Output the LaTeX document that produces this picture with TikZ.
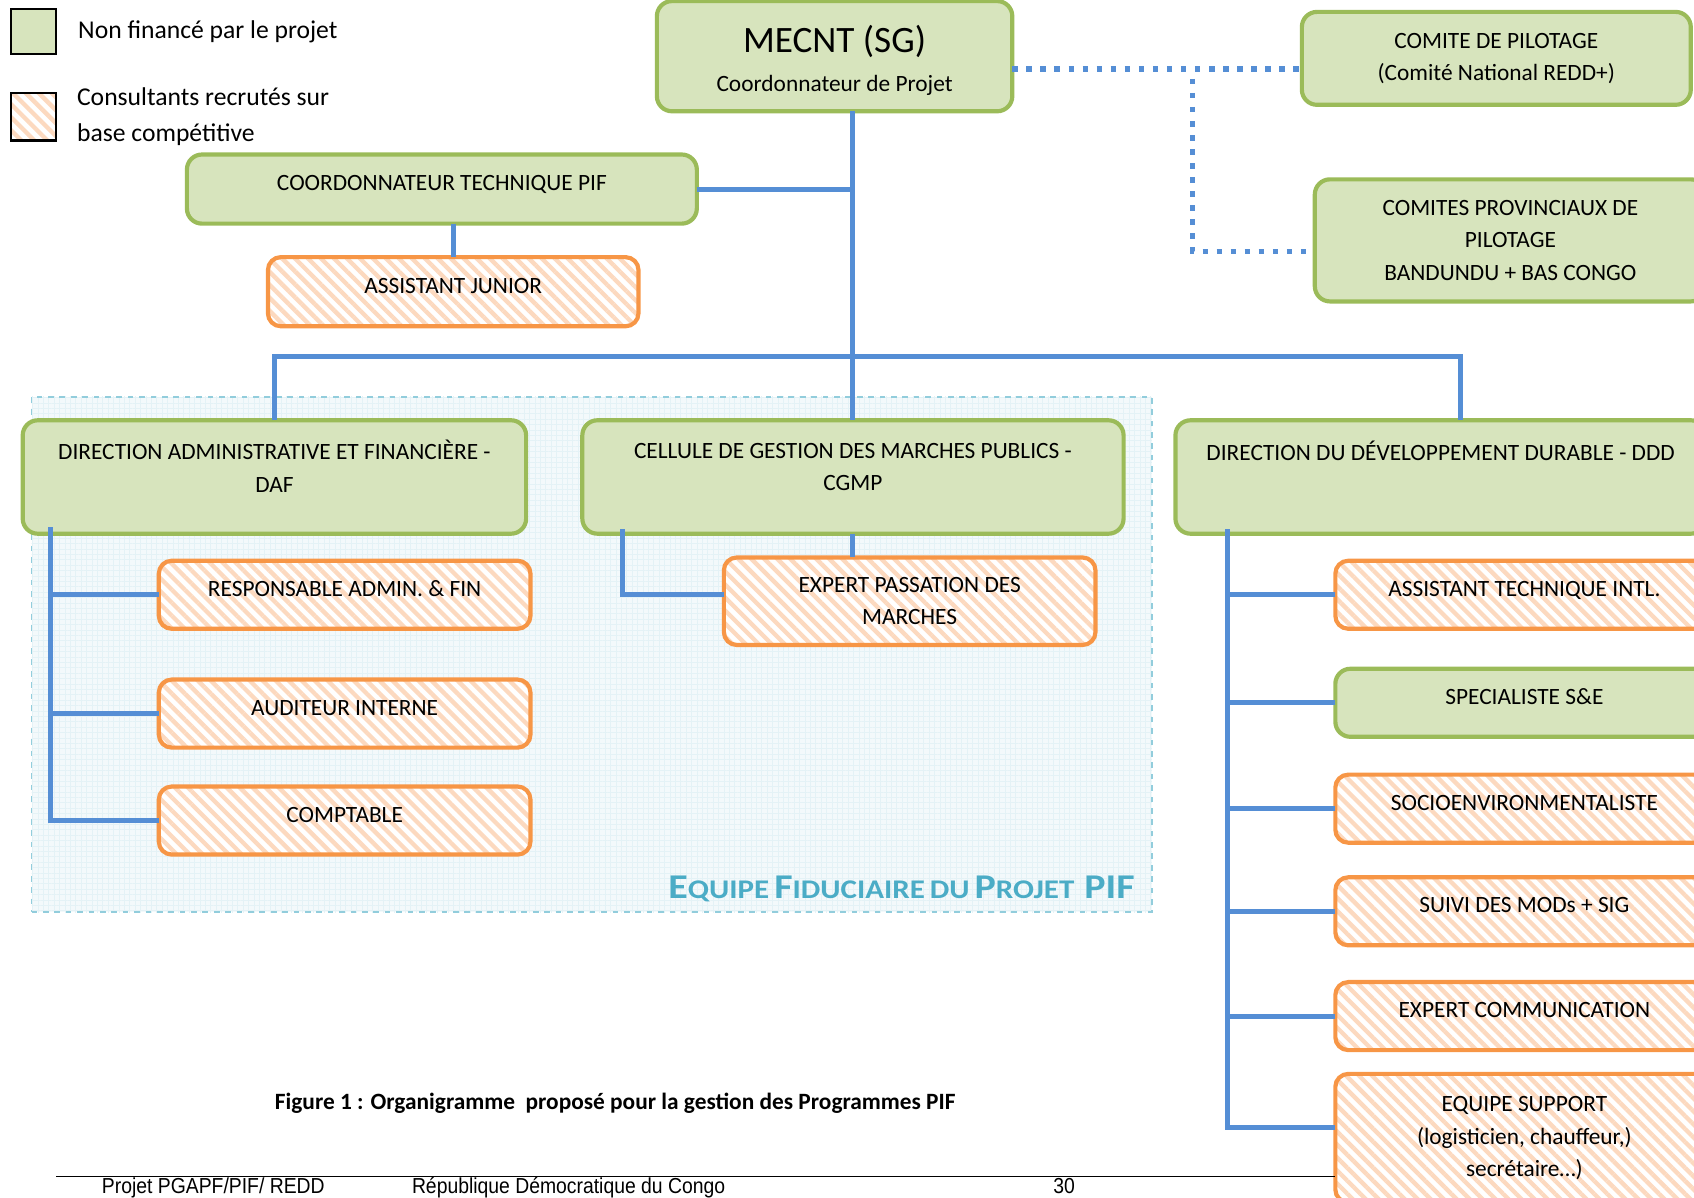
\documentclass[tikz,border=0pt]{standalone}
\usepackage{fontspec}
\setmainfont{Carlito}
\newfontfamily\footerfont{Liberation Sans}
\usepackage{xcolor}
\usepackage{graphicx}
\definecolor{boxgreen}{HTML}{D7E4BD}
\definecolor{edgegreen}{HTML}{9BBB59}
\definecolor{edgeorange}{HTML}{F79646}
\definecolor{stripe}{HTML}{FCD9BF}
\definecolor{linkblue}{HTML}{558ED5}
\definecolor{fiduline}{HTML}{92CDDC}
\definecolor{fidutext}{HTML}{4BACC6}
\definecolor{fidufill}{HTML}{F3F9FB}
\usepackage{tikz}
\usetikzlibrary{positioning, calc, patterns.meta}

\newcommand{\fidusc}[2]{{\fontsize{18.3}{20}\selectfont #1}{\fontsize{14.2}{15}\selectfont #2}}
\newcommand{\lowstrut}[1]{\rule[-#1]{0pt}{#1}}
\newcommand{\foottext}[1]{\scalebox{1}[1.12]{#1}}

\begin{document}
\begin{tikzpicture}[
  font=\fontsize{12.3}{17.1}\selectfont,
  unit/.style={draw=edgegreen, fill=boxgreen, line width=2.2pt, outer sep=0pt,
     rounded corners=0.28cm, align=center, inner sep=0pt},
  consult/.style={draw=edgeorange, line width=2.2pt, outer sep=0pt, rounded corners=0.24cm,
     align=center, inner sep=0pt, preaction={fill=white},
     pattern={Lines[angle=-45, distance=0.17cm, line width=0.08cm]},
     pattern color=stripe},
  raisedtext/.style={text depth=0.22cm},
  link/.style={draw=linkblue, line width=2.6pt},
  dotlink/.style={draw=linkblue, line width=2.9pt, dash pattern=on 2.9pt off 4.5pt},
  footer/.style={anchor=base west, inner sep=0pt, font=\footerfont\fontsize{10.2}{12}\selectfont},
]
  \useasboundingbox (0,0) rectangle (31.36,-22.16);

  % legend
  \node[draw=black, line width=1.2pt, fill=boxgreen, minimum width=0.84cm,
        minimum height=0.84cm, inner sep=0pt] (leggreen) at (0.62,-0.58) {};
  \node[consult, draw=black, line width=1.2pt, rounded corners=0pt,
        minimum width=0.84cm, minimum height=0.88cm] (legorange) at (0.62,-2.16) {};
  \node[right=0.38cm of leggreen, inner sep=0pt,
        font=\fontsize{13.5}{19.4}\selectfont] (legtxtA) {Non financé par le projet};
  \node[right=0.38cm of legorange, inner sep=0pt, align=left,
        font=\fontsize{13.5}{19.4}\selectfont] (legtxtB)
        {Consultants recrutés sur\\base compétitive};

  % fiduciary team frame
  \node[draw=fiduline, line width=0.8pt, dashed, preaction={fill=fidufill},
        pattern={Hatch[angle=0, distance=0.1cm, line width=0.3pt]},
        pattern color=fiduline!25, minimum width=20.74cm, minimum height=9.54cm,
        anchor=north west, inner sep=0pt] (fidu) at (0.58,-7.34) {};
  \node[anchor=east, inner sep=0pt, text=fidutext, font=\bfseries] (fidulabel)
        at ([xshift=-0.32cm, yshift=0.44cm]fidu.south east)
        {\scalebox{1.15}[1]{\fidusc{E}{QUIPE} \fidusc{F}{IDUCIAIRE} {\fontsize{14.2}{15}\selectfont DU}
         \fidusc{P}{ROJET}\ \ {\fontsize{18.3}{20}\selectfont PIF}}};

  % top level
  \node[unit, minimum width=6.58cm, minimum height=2.04cm] (mecnt) at (15.45,-1.04)
        {{\fontsize{19.6}{24}\selectfont\rule{0pt}{0.66cm}MECNT (SG)}\\[3pt]Coordonnateur de Projet};
  \node[unit, minimum width=7.2cm, minimum height=1.72cm] (comite) at (27.7,-1.08)
        {COMITE DE PILOTAGE\\(Comité National REDD+)};
  \node[unit, minimum width=7.24cm, minimum height=2.26cm] (comprov) at (27.96,-4.45)
        {COMITES PROVINCIAUX DE\\PILOTAGE\\BANDUNDU + BAS CONGO};
  \node[unit, raisedtext, minimum width=9.44cm, minimum height=1.28cm] (coord)
        at (8.18,-3.5) {COORDONNATEUR TECHNIQUE PIF};
  \node[consult, raisedtext, minimum width=6.86cm, minimum height=1.28cm] (assist)
        at (8.39,-5.4) {ASSISTANT JUNIOR};

  % directions
  \node[unit, minimum width=9.32cm, minimum height=2.1cm] (daf) at (5.08,-8.83)
        {DIRECTION ADMINISTRATIVE ET FINANCIÈRE -\\DAF\lowstrut{0.4cm}};
  \node[unit, minimum width=10.02cm, minimum height=2.1cm] (cgmp) at (15.79,-8.83)
        {CELLULE DE GESTION DES MARCHES PUBLICS -\\CGMP\lowstrut{0.37cm}};
  \node[unit, text depth=0.96cm, minimum width=9.82cm, minimum height=2.1cm] (ddd)
        at (26.67,-8.83) {DIRECTION DU DÉVELOPPEMENT DURABLE - DDD};

  % DAF staff
  \node[consult, raisedtext, minimum width=6.88cm, minimum height=1.26cm] (respadm)
        at (6.38,-11.01) {RESPONSABLE ADMIN. \& FIN};
  \node[consult, raisedtext, minimum width=6.88cm, minimum height=1.26cm,
        below=0.94cm of respadm] (auditeur) {AUDITEUR INTERNE};
  \node[consult, raisedtext, minimum width=6.88cm, minimum height=1.26cm,
        below=0.72cm of auditeur] (comptable) {COMPTABLE};

  % CGMP staff
  \node[consult, minimum width=6.88cm, minimum height=1.62cm] (expert)
        at (16.84,-11.13) {EXPERT PASSATION DES\\MARCHES};

  % DDD staff
  \node[consult, raisedtext, minimum width=7.0cm, minimum height=1.26cm] (ati)
        at (28.22,-11.01) {ASSISTANT TECHNIQUE INTL.};
  \node[unit, raisedtext, minimum width=7.0cm, minimum height=1.26cm,
        below=0.74cm of ati] (spec) {SPECIALISTE S\&E};
  \node[consult, raisedtext, minimum width=7.0cm, minimum height=1.26cm,
        below=0.7cm of spec] (socio) {SOCIOENVIRONMENTALISTE};
  \node[consult, raisedtext, minimum width=7.0cm, minimum height=1.26cm,
        below=0.64cm of socio] (suivi) {SUIVI DES MODs + SIG};
  \node[consult, raisedtext, minimum width=7.0cm, minimum height=1.26cm,
        below=0.68cm of suivi] (expcom) {EXPERT COMMUNICATION};
  \node[consult, minimum width=7.0cm, minimum height=2.38cm,
        below=0.44cm of expcom] (eqsup)
        {EQUIPE SUPPORT\\(logisticien, chauffeur,)\\secrétaire…)};

  % hierarchy links
  \draw[link] (mecnt.south -| cgmp.north) -- (cgmp.north);
  \draw[link] (coord.east) -- (coord.east -| cgmp.north);
  \draw[link] (assist.north |- coord.south) -- (assist.north);
  \coordinate (busy) at (0,-6.6);
  \coordinate (dddin) at ($(ddd.north)+(0.36,0)$);
  \draw[link] (daf.north) -- (daf.north |- busy) -- (dddin |- busy) -- (dddin);

  \coordinate (daftrunk) at ($(daf.south west)+(0.52,0.12)$);
  \draw[link] (daftrunk) |- (comptable.west);
  \foreach \n in {respadm, auditeur}
    \draw[link] (\n.west) -- (\n.west -| daftrunk);

  \coordinate (cgmptrunk) at ($(cgmp.south west)+(0.74,0.08)$);
  \draw[link] (cgmptrunk) |- ([yshift=0.13cm]expert.west);
  \draw[link] (cgmp.south) -- (cgmp.south |- expert.north);

  \coordinate (dddtrunk) at ($(ddd.south west)+(0.96,0.08)$);
  \draw[link] (dddtrunk) |- ([yshift=0.19cm]eqsup.west);
  \foreach \n in {ati, spec, socio, suivi, expcom}
    \draw[link] (\n.west) -- (\n.west -| dddtrunk);

  % steering committees
  \coordinate (split) at (22.08,-1.28);
  \draw[dotlink] ([yshift=-0.24cm]mecnt.east) -- ([yshift=-0.24cm]mecnt.east -| comite.west);
  \draw[dotlink] ([yshift=-0.18cm]split) |- ([yshift=-0.21cm]comprov.west);

  % caption and footer
  \node[font=\bfseries\fontsize{12.3}{14}\selectfont] (caption) at (11.39,-20.42)
        {Figure 1 : Organigramme\ \ proposé pour la gestion des Programmes PIF};
  \draw[line width=0.7pt] (1.04,-21.78) -- (24.72,-21.78);
  \node[footer] (footleft) at (1.88,-22.1) {\foottext{Projet PGAPF/PIF/ REDD}};
  \node[footer] (footmid) at (7.62,-22.1) {\foottext{République Démocratique du Congo}};
  \node[footer, anchor=base] (footpage) at (19.7,-22.1) {\foottext{30}};
\end{tikzpicture}
\end{document}
